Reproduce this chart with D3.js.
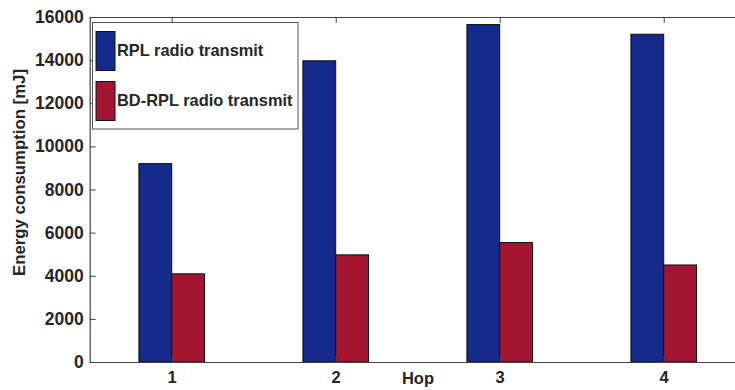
<!DOCTYPE html>
<html>
<head>
<meta charset="utf-8">
<script src="https://cdn.jsdelivr.net/npm/d3@7"></script>
<style>
html,body{margin:0;padding:0;background:#fff;}
svg{display:block;}
text{font-family:"Liberation Sans",Arial,Helvetica,sans-serif;font-weight:bold;fill:#262626;}
</style>
</head>
<body>
<script>
const categories = [1, 2, 3, 4];
const rplValues = [9200, 13970, 15650, 15200];
const bdrplValues = [4090, 4970, 5540, 4500];
const seriesNames = ["RPL radio transmit", "BD-RPL radio transmit"];
const seriesColors = ["#152a8a", "#a31530"];
const yTicks = [0, 2000, 4000, 6000, 8000, 10000, 12000, 14000, 16000];
const xLabel = "Hop";
const yLabel = "Energy consumption [mJ]";

const W = 735, H = 390;
const svg = d3.select("body").append("svg").attr("width", W).attr("height", H);

const x = d3.scaleLinear().domain([0.5, 4.5]).range([89.7, 745.7]);
const y = d3.scaleLinear().domain([0, 16000]).range([362, 17]);
const barW = 0.2;

const series = [rplValues, bdrplValues];
series.forEach((vals, si) => {
  svg.append("g").selectAll("rect").data(categories).join("rect")
    .attr("x", (c) => x(c + (si === 0 ? -barW : 0)))
    .attr("width", x(barW) - x(0))
    .attr("y", (c, i) => y(vals[i]))
    .attr("height", (c, i) => y(0) - y(vals[i]))
    .attr("fill", seriesColors[si])
    .attr("stroke", "#111")
    .attr("stroke-width", 1);
});

// axes
const axColor = "#444";
const gx = svg.append("g").attr("transform", `translate(0,${y(0)})`)
  .call(d3.axisBottom(x).tickValues(categories).tickSize(-6).tickPadding(9).tickFormat(d3.format("d")));
const gxTop = svg.append("g").attr("transform", `translate(0,${y(16000)})`)
  .call(d3.axisTop(x).tickValues(categories).tickSize(-6).tickFormat(""));
const gy = svg.append("g").attr("transform", `translate(${x(0.5)},0)`)
  .call(d3.axisLeft(y).tickValues(yTicks).tickSize(-6).tickPadding(6).tickFormat(d3.format("d")));
[gx, gxTop, gy].forEach(g => {
  g.select(".domain").attr("stroke", axColor).attr("stroke-width", 1.2);
  g.selectAll(".tick line").attr("stroke", axColor);
  g.selectAll("text").style("font-size", "17.5px").attr("fill", "#262626");
});
gx.selectAll("text").style("font-size", "16.5px");
gx.select(".domain").attr("d", `M${x(0.5)},0.5H${W+20}`);
gxTop.select(".domain").attr("d", `M${x(0.5)},0.5H${W+20}`);

svg.append("text").attr("x", 418).attr("y", 384).attr("text-anchor", "middle")
  .style("font-size", "16.5px").text(xLabel);
svg.append("text").attr("transform", "translate(25,172.5) rotate(-90)").attr("text-anchor", "middle")
  .style("font-size", "16.8px").text(yLabel);

// legend
const lg = svg.append("g");
lg.append("rect").attr("x", 92.5).attr("y", 22.5).attr("width", 205.5).attr("height", 106.5)
  .attr("fill", "#fff").attr("stroke", "#555").attr("stroke-width", 1);
seriesNames.forEach((name, i) => {
  const top = 31.5 + i * 50;
  lg.append("rect").attr("x", 96).attr("y", top).attr("width", 19).attr("height", 39)
    .attr("fill", seriesColors[i]).attr("stroke", "#111").attr("stroke-width", 1);
  lg.append("text").attr("x", 117).attr("y", top + 24.5).style("font-size", "16.4px").text(name);
});
</script>
</body>
</html>
